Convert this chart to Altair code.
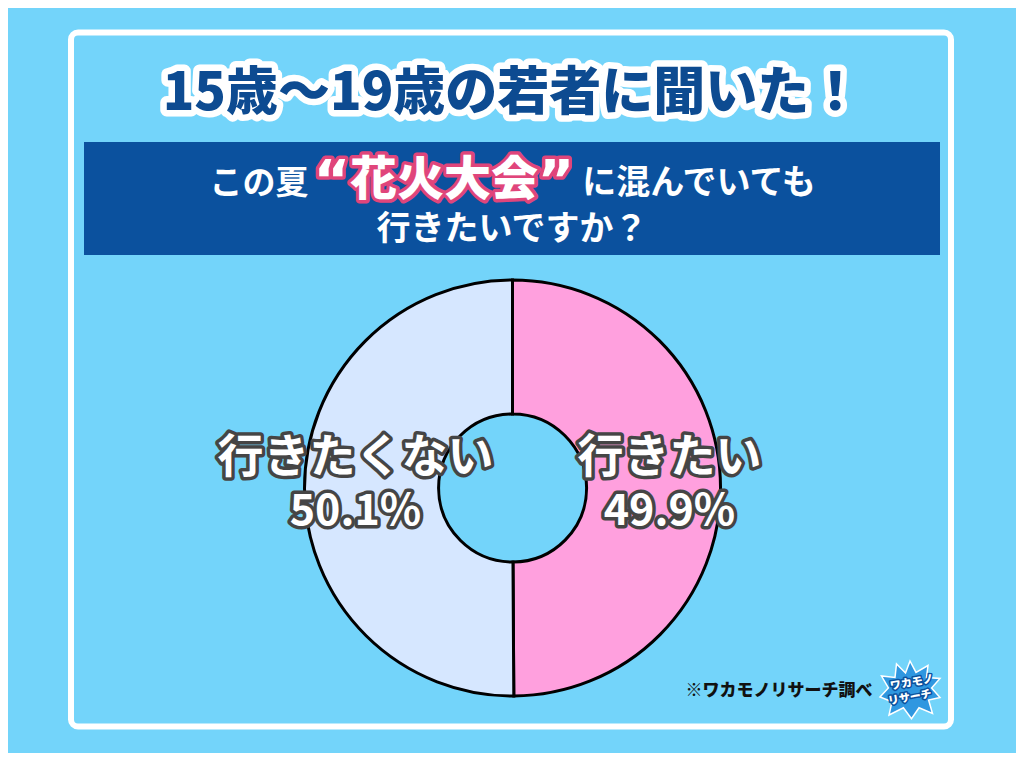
import altair as alt
import pandas as pd

# ---- data ----
categories = ["行きたい", "行きたくない"]
values = [49.9, 50.1]
pct_labels = ["49.9%", "50.1%"]
slice_order = [1, 2]
slice_colors = ["#ffa0de", "#d6e7ff"]

title_text = "15歳～19歳の若者に聞いた！"
q_part1 = "この夏"
q_open = "“"
q_highlight = "花火大会"
q_close = "”"
q_part2 = "に混んでいても"
q_line2 = "行きたいですか？"
source_note = "※ワカモノリサーチ調べ"
logo_lines = ["ワカモノ", "リサーチ"]

df = pd.DataFrame({"cat": categories, "value": values, "pct": pct_labels, "ord": slice_order})
one = pd.DataFrame({"k": [0]})

W, H = 1008, 745
CX, CY = 504.5, 480
FONT = "Noto Sans CJK JP"
BG = "#73d4fa"


def deco_text(text, x, y, size, color, font=FONT, outline=None, ow=0, weight="bold", angle=0, align="center"):
    layers = []
    base = alt.Chart(one)
    if outline:
        layers.append(base.mark_text(text=text, font=font, fontSize=size, fontWeight=weight,
                                     fill=outline, stroke=outline, strokeWidth=ow, strokeJoin="round",
                                     align=align, baseline="middle", angle=angle)
                      .encode(x=alt.value(x), y=alt.value(y)))
    layers.append(base.mark_text(text=text, font=font, fontSize=size, fontWeight=weight,
                                 fill=color, align=align, baseline="middle", angle=angle)
                  .encode(x=alt.value(x), y=alt.value(y)))
    return layers


layers = []

# frame
layers.append(alt.Chart(one).mark_rect(fillOpacity=0, stroke="white", strokeWidth=6, cornerRadius=7)
              .encode(x=alt.value(63), x2=alt.value(943), y=alt.value(24.5), y2=alt.value(718.5)))

# title
layers += deco_text(title_text, 504, 86, 52, "#0d4b91", outline="white", ow=13, weight=900)

# banner
layers.append(alt.Chart(one).mark_rect(fill="#0b519e")
              .encode(x=alt.value(76), x2=alt.value(932), y=alt.value(134), y2=alt.value(247)))
layers += deco_text(q_part1, 251, 176, 33, "white")
layers += deco_text(q_open, 324, 174, 56, "white", font="DejaVu Sans", outline="#e0457b", ow=7)
layers += deco_text(q_highlight, 436, 173, 47, "white", outline="#e0457b", ow=7, weight=900)
layers += deco_text(q_close, 548, 174, 56, "white", font="DejaVu Sans", outline="#e0457b", ow=7)
layers += deco_text(q_part2, 691, 176, 34, "white")
layers += deco_text(q_line2, 504, 222, 34, "white")

# donut
base = alt.Chart(df).encode(
    theta=alt.Theta("value:Q", stack=True),
    order=alt.Order("ord:Q"),
)
arc = base.mark_arc(outerRadius=208, innerRadius=74, stroke="black", strokeWidth=3).encode(
    color=alt.Color("cat:N", scale=alt.Scale(domain=categories, range=slice_colors), legend=None),
    x=alt.value(CX), y=alt.value(CY),
)
layers.append(arc)

for field, dy, size in [("cat", -30, 46), ("pct", 24, 43)]:
    layers.append(base.mark_text(radius=157, font=FONT, fontSize=size, fontWeight="bold",
                                 fill="#454545", stroke="#454545", strokeWidth=7, strokeJoin="round",
                                 dy=dy, align="center", baseline="middle")
                  .encode(text=f"{field}:N", x=alt.value(CX), y=alt.value(CY)))
    layers.append(base.mark_text(radius=157, font=FONT, fontSize=size, fontWeight="bold",
                                 fill="white", dy=dy, align="center", baseline="middle")
                  .encode(text=f"{field}:N", x=alt.value(CX), y=alt.value(CY)))

# footer
layers += deco_text(source_note, 771, 683, 17, "#111111", weight=900)

# logo (simplified splash)
splash = ("M0,-1 L0.2,-0.62 L0.6,-0.85 L0.55,-0.45 L1,-0.42 L0.72,-0.1 L1,0.22 L0.62,0.3 "
          "L0.75,0.75 L0.3,0.56 L0.05,0.92 L-0.22,0.56 L-0.7,0.8 L-0.6,0.36 L-1,0.2 L-0.72,-0.1 "
          "L-0.95,-0.5 L-0.5,-0.45 L-0.45,-0.9 L-0.15,-0.6 Z")
layers.append(alt.Chart(one).mark_point(shape=splash, size=3600, filled=True, fill="#2f97e0",
                                        stroke="white", strokeWidth=1.5, opacity=1)
              .encode(x=alt.value(902), y=alt.value(683)))
layers += deco_text(logo_lines[0], 904, 675, 11, "white", outline="#0b519e", ow=3, weight=900, angle=350)
layers += deco_text(logo_lines[1], 902, 690, 11, "white", outline="#0b519e", ow=3, weight=900, angle=350)

chart = alt.layer(*layers).properties(
    width=W, height=H,
    autosize=alt.AutoSizeParams(type="none"),
    padding=0,
    background=BG,
).configure_view(strokeWidth=0)

chart.save("out.html", embed_options={"renderer": "svg", "actions": False})
